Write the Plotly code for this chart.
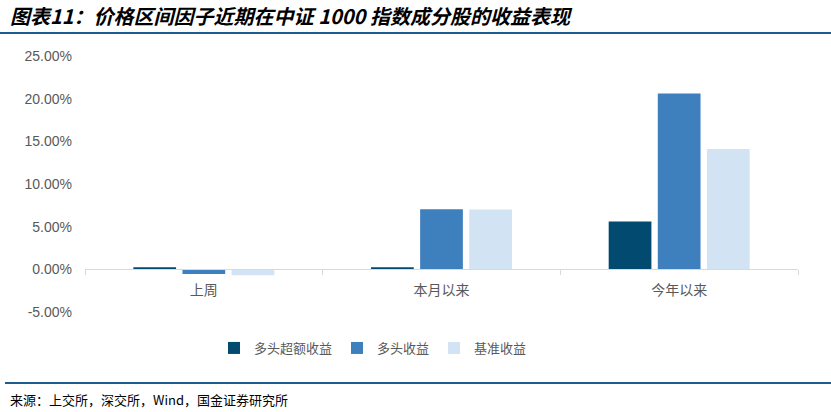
import plotly.graph_objects as go

categories = ["上周", "本月以来", "今年以来"]
series_names = ["多头超额收益", "多头收益", "基准收益"]
excess = [0.25, 0.25, 5.6]
long_ret = [-0.55, 7.05, 20.6]
bench = [-0.7, 7.0, 14.1]
y_ticks = [-5, 0, 5, 10, 15, 20, 25]
y_tick_labels = ["-5.00%", "0.00%", "5.00%", "10.00%", "15.00%", "20.00%", "25.00%"]
colors = ["#034A70", "#3E7FBE", "#D2E3F3"]

W, H = 831, 412
ydom = [1 - 312 / H, 1 - 56 / H]
xdom = [85 / W, 798 / W]
ymin, ymax = -5, 25
zero_pos = ydom[0] + (ydom[1] - ydom[0]) * (0 - ymin) / (ymax - ymin)

fig = go.Figure()
for name, vals, c in zip(series_names, [excess, long_ret, bench], colors):
    fig.add_trace(go.Bar(x=categories, y=vals, name=name, marker=dict(color=c, line=dict(width=0))))

font_cjk = "Noto Sans CJK SC, Noto Sans, sans-serif"
fig.update_layout(
    template="none",
    width=W, height=H,
    margin=dict(l=0, r=0, t=0, b=0, pad=0, autoexpand=False),
    paper_bgcolor="white", plot_bgcolor="white",
    barmode="group", bargap=0.38, bargroupgap=0.13,
    font=dict(family=font_cjk, color="#595959", size=12),
    showlegend=True,
    legend=dict(orientation="h", x=373 / W, xanchor="center", y=1 - 348 / H, yanchor="middle",
                font=dict(size=13, color="#595959"), itemwidth=30, tracegroupgap=0,
                bgcolor="rgba(0,0,0,0)"),
    xaxis=dict(domain=xdom, anchor="free", position=zero_pos, showline=True, linecolor="#D9D9D9",
               linewidth=1, ticks="outside", tickson="boundaries", ticklen=5, tickcolor="#D9D9D9",
               showgrid=False, tickfont=dict(size=14, color="#595959"), ticklabelstandoff=8,
               zeroline=False, automargin=False),
    yaxis=dict(domain=ydom, range=[ymin, ymax], tickvals=y_ticks, ticktext=y_tick_labels,
               showgrid=False, zeroline=False, showline=False, ticks="",
               tickfont=dict(size=14, color="#595959", family="Liberation Sans, Arial, sans-serif"),
               ticklabelstandoff=12, automargin=False),
)

# title
fig.add_annotation(xref="paper", yref="paper", x=8 / W, y=1 - 16 / H, xanchor="left", yanchor="middle",
                   text="<b><i>图表11：价格区间因子近期在中证 1000 指数成分股的收益表现</i></b>",
                   showarrow=False, font=dict(size=20, color="#000000", family=font_cjk))
fig.add_shape(type="line", xref="paper", yref="paper", x0=0, x1=1, y0=1 - 33 / H, y1=1 - 33 / H,
              line=dict(color="#1F5C8B", width=2))
# footer
fig.add_shape(type="line", xref="paper", yref="paper", x0=5 / W, x1=1, y0=1 - 383 / H, y1=1 - 383 / H,
              line=dict(color="#1F5C8B", width=2))
fig.add_annotation(xref="paper", yref="paper", x=8 / W, y=1 - 399 / H, xanchor="left", yanchor="middle",
                   text="来源：上交所，深交所，Wind，国金证券研究所",
                   showarrow=False, font=dict(size=13, color="#000000", family=font_cjk))

fig.write_html(
    "out.html",
    config={"displayModeBar": False},
    post_script="document.body.style.margin='0';document.body.style.padding='0';document.body.style.overflow='hidden';",
)
